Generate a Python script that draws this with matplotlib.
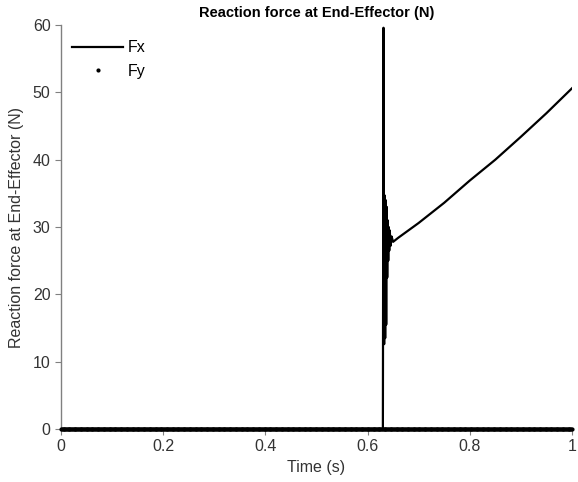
import numpy as np
import matplotlib.pyplot as plt

plt.rcParams['font.family'] = ['Liberation Sans', 'DejaVu Sans']

# Fx: zero until contact, spike, ringing, then a steady rise
fx_time = [0.0, 0.630, 0.6312, 0.6325, 0.6335, 0.6345, 0.6355, 0.6365, 0.6375,
           0.6385, 0.6395, 0.6405, 0.6415, 0.6425, 0.6435, 0.645, 0.647, 0.650,
           0.660, 0.680, 0.700, 0.750, 0.800, 0.850, 0.900, 0.950, 1.000]
fx_force = [0.0, 0.0, 59.6, 12.6, 34.7, 13.5, 34.0, 15.5, 33.0,
            22.5, 31.0, 25.0, 30.0, 26.5, 29.5, 27.2, 28.6, 27.8,
            28.4, 29.5, 30.6, 33.6, 36.9, 40.0, 43.4, 46.9, 50.6]

# Fy stays at zero for the whole run
fy_time = np.linspace(0.0, 1.0, 601)
fy_force = np.zeros(len(fy_time))

fig = plt.figure(figsize=(5.78, 4.82), dpi=100)
ax = fig.add_axes([0.1055, 0.110, 0.884, 0.838])

ax.plot(fx_time, fx_force, '-', color='black', linewidth=1.6, label='Fx')
ax.plot(fy_time, fy_force, '.', color='black', markersize=6, markeredgewidth=0,
        clip_on=False, zorder=3, label='Fy')

ax.set_xlim(0, 1)
ax.set_ylim(0, 60)
ax.set_xticks([0, 0.2, 0.4, 0.6, 0.8, 1])
ax.set_xticklabels(['0', '0.2', '0.4', '0.6', '0.8', '1'])
ax.set_yticks([0, 10, 20, 30, 40, 50, 60])

for side in ['top', 'right']:
    ax.spines[side].set_visible(False)
for side in ['left', 'bottom']:
    ax.spines[side].set_color('#808080')
    ax.spines[side].set_linewidth(1.0)
ax.tick_params(direction='out', length=4, color='#808080', labelsize=11.5, labelcolor='#333333')

ax.set_xlabel('Time (s)', fontsize=11.5, color='#333333', labelpad=4)
ax.set_ylabel('Reaction force at End-Effector (N)', fontsize=11.5, color='#333333', labelpad=6)
ax.set_title('Reaction force at End-Effector (N)', fontsize=10.5, fontweight='bold', pad=6)

leg = ax.legend(loc='upper left', frameon=False, fontsize=11.5, handlelength=3.2,
                borderaxespad=0.3, handletextpad=0.3, labelspacing=0.55,
                markerscale=1.0, bbox_to_anchor=(0.0, 0.99))

fig.savefig('out.png', dpi=100)
